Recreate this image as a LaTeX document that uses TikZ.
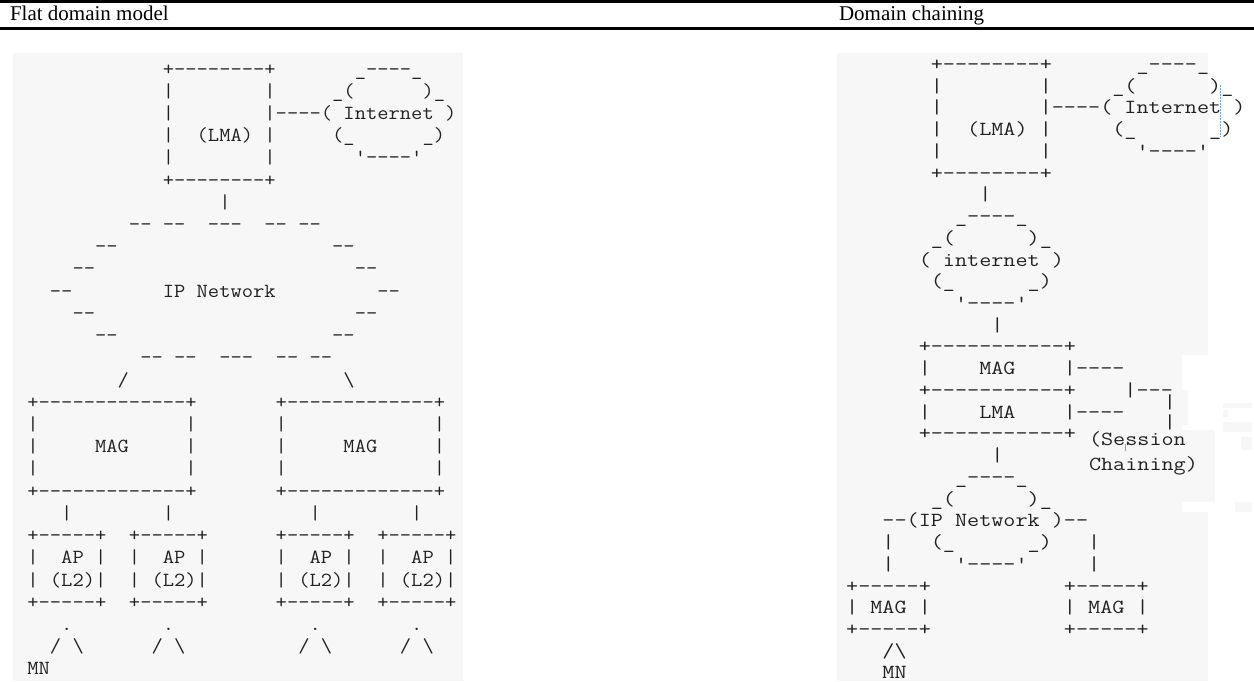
\documentclass[tikz,border=0pt]{standalone}
\usepackage{fontspec}
\newfontfamily\hdrfont{Liberation Serif}
\usepackage{graphicx}
\definecolor{panel}{HTML}{F7F7F7}
\definecolor{ink}{HTML}{222222}
\definecolor{cursorblue}{HTML}{6FA8DC}
\newcounter{nn}
\newlength\cwd
\newcommand\asciifont{\fontsize{20}{20}\selectfont\ttfamily\frenchspacing}
\newcommand\aL[3]{\stepcounter{nn}\node[asc] (l\arabic{nn}) at ({27.355+11.29*(#1)},{-(75+22.22*(#2))}) {\scalebox{\sxL}[1]{#3}};}
\newcommand\aR[3]{\stepcounter{nn}\node[asc] (r\arabic{nn}) at ({846.15+12.1*(#1)},{-(70.5+21.73*(#2))}) {\scalebox{\sxR}[1]{#3}};}
\newcommand\q{\textquotesingle}
\newcommand\bs{\textbackslash}
\begin{document}
\settowidth{\cwd}{\asciifont M}
\pgfmathsetmacro{\sxL}{11.29/\cwd}
\pgfmathsetmacro{\sxR}{12.1/\cwd}
\begin{tikzpicture}[x=1pt,y=1pt,
  asc/.style={inner sep=0pt, outer sep=0pt, anchor=base west, font=\asciifont, text=ink},
  hdr/.style={inner sep=0pt, outer sep=0pt, anchor=base west, font=\hdrfont\fontsize{21}{21}\selectfont, text=black}]
\useasboundingbox (0,0) rectangle (1254,-681);
\fill[white] (0,0) rectangle (1254,-681);
% header rules
\fill[black] (0,0) rectangle (1254,-2.7);
\fill[black] (0,-26.7) rectangle (1254,-29.7);
\node[hdr] (h1) at (10,-20.5) {Flat domain model};
\node[hdr] (h2) at (839,-20.5) {Domain chaining};
% panels
\fill[panel] (13.3,-53.3) rectangle (463.3,-681);
\fill[panel] (836.7,-53.3) rectangle (1208,-681);
\fill[white] (1181.7,-355) rectangle (1254,-512);
\fill[panel] (1181.7,-390) rectangle (1188.3,-425);
\fill[panel] (1086.7,-430) rectangle (1215,-501.7);
\fill[panel] (1223,-403) rectangle (1252,-408);
\fill[panel] (1223,-410) rectangle (1228,-417);
\fill[panel] (1223,-422) rectangle (1252,-432);
\fill[panel] (1241,-437) rectangle (1252,-450);
\fill[panel] (1235,-502) rectangle (1252,-512);
% ---------------- left diagram ----------------
\aL{12}{0}{+--------+} \aL{29}{0}{\_----\_}
\aL{12}{1}{|} \aL{21}{1}{|} \aL{27}{1}{\_(} \aL{35}{1}{)\_}
\aL{12}{2}{|} \aL{21}{2}{|----( Internet )}
\aL{12}{3}{|} \aL{15}{3}{(LMA)} \aL{21}{3}{|} \aL{27}{3}{(\_} \aL{35}{3}{\_)}
\aL{12}{4}{|} \aL{21}{4}{|} \aL{29}{4}{\q----\q}
\aL{12}{5}{+--------+}
\aL{17}{6}{|}
\aL{9}{7}{-- --} \aL{16}{7}{---} \aL{21}{7}{-- --}
\aL{6}{8}{--} \aL{27}{8}{--}
\aL{4}{9}{--} \aL{29}{9}{--}
\aL{2}{10}{--} \aL{12}{10}{IP Network} \aL{31}{10}{--}
\aL{4}{11}{--} \aL{29}{11}{--}
\aL{6}{12}{--} \aL{27}{12}{--}
\aL{10}{13}{-- --} \aL{17}{13}{---} \aL{22}{13}{-- --}
\aL{8}{14}{/} \aL{28}{14}{\bs}
\aL{0}{15}{+-------------+} \aL{22}{15}{+-------------+}
\aL{0}{16}{|} \aL{14}{16}{|} \aL{22}{16}{|} \aL{36}{16}{|}
\aL{0}{17}{|} \aL{6}{17}{MAG} \aL{14}{17}{|} \aL{22}{17}{|} \aL{28}{17}{MAG} \aL{36}{17}{|}
\aL{0}{18}{|} \aL{14}{18}{|} \aL{22}{18}{|} \aL{36}{18}{|}
\aL{0}{19}{+-------------+} \aL{22}{19}{+-------------+}
\aL{3}{20}{|} \aL{12}{20}{|} \aL{25}{20}{|} \aL{34}{20}{|}
\foreach \s in {0,9,22,31}{
  \aL{\s}{21}{+-----+}
  \aL{\s}{22}{|} \aL{\s+3}{22}{AP |}
  \aL{\s}{23}{| (L2)|}
  \aL{\s}{24}{+-----+}
  \aL{\s+3}{25}{.}
  \aL{\s+2}{26}{/ \bs}
}
\aL{0}{27}{MN}
% ---------------- right diagram ----------------
\aR{7}{0}{+--------+} \aR{24}{0}{\_----\_}
\aR{7}{1}{|} \aR{16}{1}{|} \aR{22}{1}{\_(} \aR{30}{1}{)\_}
\aR{7}{2}{|} \aR{16}{2}{|----( Internet )}
\aR{7}{3}{|} \aR{10}{3}{(LMA)} \aR{16}{3}{|} \aR{22}{3}{(\_} \aR{30}{3}{\_)}
\aR{7}{4}{|} \aR{16}{4}{|} \aR{24}{4}{\q----\q}
\aR{7}{5}{+--------+}
\aR{11}{6}{|}
\aR{9}{7}{\_----\_}
\aR{7}{8}{\_(} \aR{15}{8}{)\_}
\aR{6}{9}{( internet )}
\aR{7}{10}{(\_} \aR{15}{10}{\_)}
\aR{9}{11}{\q----\q}
\aR{12}{12}{|}
\aR{6}{13}{+-----------+}
\aR{6}{14}{|} \aR{11}{14}{MAG} \aR{18}{14}{|----}
\aR{6}{15}{+-----------+} \aR{23}{15}{|---}
\aR{6}{16}{|} \aR{11}{16}{LMA} \aR{18}{16}{|----}
\aR{6}{17}{+-----------+}
\aR{12}{18}{|}
\aR{9}{19}{\_----\_}
\aR{7}{20}{\_(} \aR{15}{20}{)\_}
\aR{3}{21}{--(IP Network )--}
\aR{3}{22}{|} \aR{7}{22}{(\_} \aR{15}{22}{\_)} \aR{20}{22}{|}
\aR{3}{23}{|} \aR{9}{23}{\q----\q} \aR{20}{23}{|}
\aR{0}{24}{+-----+} \aR{18}{24}{+-----+}
\aR{0}{25}{| MAG |} \aR{18}{25}{| MAG |}
\aR{0}{26}{+-----+} \aR{18}{26}{+-----+}
\aR{3}{27}{/\bs}
\aR{3}{28}{MN}
% overlay part (session chaining)
\node[asc] (ov1) at (1163.95,-408.2) {\scalebox{\sxR}[1]{|}};
\node[asc] (ov2) at (1163.95,-428.2) {\scalebox{\sxR}[1]{|}};
\node[asc] (ses1) at (1089,-445) {\scalebox{\sxR}[1]{(Session}};
\node[asc] (ses2) at (1089,-470.7) {\scalebox{\sxR}[1]{Chaining)}};
% screen artefacts
\coordinate (d1) at (1220.7,-85);
\coordinate (d2) at (1220.7,-137);
\draw[cursorblue, line width=1pt, dash pattern=on 1.5pt off 1.5pt] (d1) -- (d2);
\coordinate (c1) at (1125.7,-444);
\coordinate (c2) at (1125.7,-451);
\draw[cursorblue, line width=0.8pt] (c1) -- (c2);
\end{tikzpicture}
\end{document}
